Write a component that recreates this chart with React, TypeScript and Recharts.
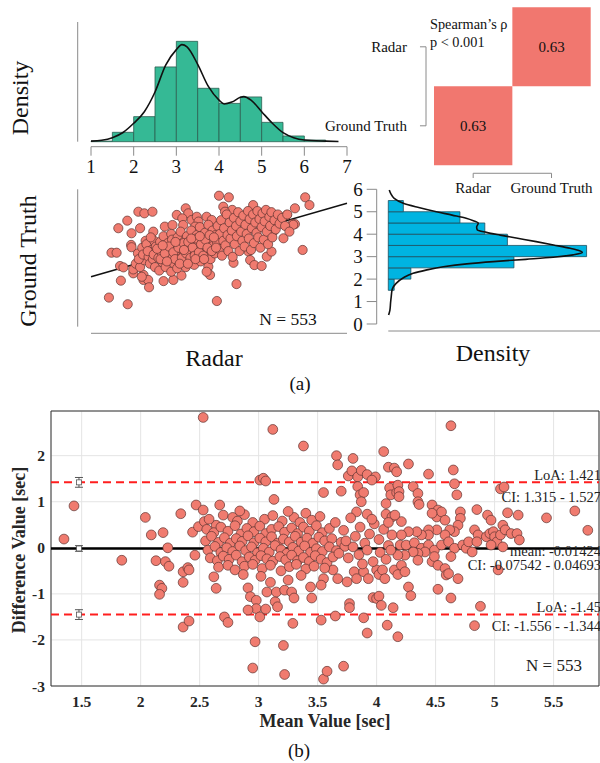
import React from "react";
import {
  ComposedChart,
  ScatterChart,
  Scatter,
  Line,
  XAxis,
  YAxis,
  ReferenceArea,
  ReferenceLine,
  CartesianGrid,
  ErrorBar,
} from "recharts";

const serif = "'Liberation Serif', 'Times New Roman', serif";

// ---- panel (a): marginal histograms
const histTicks = [1, 2, 3, 4, 5, 6, 7];
const gtTicks = [0, 1, 2, 3, 4, 5, 6];

const radarBins = [
  { lo: 1.0, hi: 1.5, d: 0.003 },
  { lo: 1.5, hi: 2.0, d: 0.051 },
  { lo: 2.0, hi: 2.5, d: 0.136 },
  { lo: 2.5, hi: 3.0, d: 0.406 },
  { lo: 3.0, hi: 3.5, d: 0.545 },
  { lo: 3.5, hi: 4.0, d: 0.29 },
  { lo: 4.0, hi: 4.5, d: 0.208 },
  { lo: 4.5, hi: 5.0, d: 0.243 },
  { lo: 5.0, hi: 5.5, d: 0.105 },
  { lo: 5.5, hi: 6.0, d: 0.031 },
  { lo: 6.0, hi: 6.5, d: 0.009 },
];

const radarKde = [
  [1.0, 0.003], [1.25, 0.008], [1.5, 0.022], [1.75, 0.05], [2.0, 0.1], [2.25, 0.163],
  [2.5, 0.27], [2.75, 0.416], [3.0, 0.5], [3.13, 0.527], [3.25, 0.515], [3.5, 0.42],
  [3.75, 0.3], [4.0, 0.226], [4.12, 0.205], [4.3, 0.215], [4.5, 0.241], [4.58, 0.245],
  [4.75, 0.226], [5.0, 0.163], [5.25, 0.1], [5.5, 0.049], [5.75, 0.022], [6.0, 0.009],
  [6.5, 0.003], [6.8, 0.001],
].map(([x, d]) => ({ x, d }));

const gtBins = [
  { lo: 1.5, hi: 2.0, d: 0.018 },
  { lo: 2.0, hi: 2.5, d: 0.069 },
  { lo: 2.5, hi: 3.0, d: 0.384 },
  { lo: 3.0, hi: 3.5, d: 0.606 },
  { lo: 3.5, hi: 4.0, d: 0.364 },
  { lo: 4.0, hi: 4.5, d: 0.295 },
  { lo: 4.5, hi: 5.0, d: 0.219 },
  { lo: 5.0, hi: 5.5, d: 0.046 },
];

const gtKde = [
  [0.4, 0.001], [0.62, 0.005], [0.95, 0.007], [1.22, 0.009], [1.55, 0.012], [1.81, 0.024],
  [2.05, 0.045], [2.26, 0.076], [2.4, 0.115], [2.55, 0.168], [2.68, 0.24], [2.78, 0.321],
  [2.88, 0.42], [2.97, 0.504], [3.08, 0.565], [3.18, 0.593], [3.28, 0.58], [3.37, 0.556],
  [3.52, 0.505], [3.67, 0.452], [3.82, 0.395], [3.96, 0.342], [4.08, 0.3], [4.19, 0.272],
  [4.32, 0.27], [4.49, 0.275], [4.6, 0.26], [4.71, 0.238], [4.85, 0.195], [5.0, 0.147],
  [5.2, 0.09], [5.38, 0.046], [5.6, 0.018], [5.8, 0.008], [5.97, 0.003],
].map(([v, d]) => ({ v, d }));

// ---- panel (a): radar vs ground truth
const radarGt: [number, number][] = [
  [1.42, 1.27], [1.86, 0.98], [1.7, 2.01], [1.48, 3.23], [1.6, 3.23], [1.64, 4.3], [1.85, 4.63],
  [2.11, 5.02], [2.25, 4.95], [2.44, 5.02], [1.95, 4.08], [1.94, 3.57], [1.95, 3.47], [1.68, 2.65],
  [1.76, 2.59], [1.99, 2.33], [2.23, 2.26], [2.23, 2.04], [2.34, 2.04], [2.36, 1.72], [1.99, 2.5],
  [2.19, 2.18], [2.15, 4.3], [2.46, 4.15], [2.7, 1.99], [2.93, 2.04], [3.12, 2.23], [2.73, 4.37],
  [2.91, 4.44], [3.01, 4.88], [3.22, 5.17], [3.28, 4.95], [3.14, 4.73], [3.16, 4.44], [3.36, 4.66],
  [3.48, 4.8], [3.52, 4.59], [3.44, 4.37], [3.71, 4.8], [3.83, 4.66], [3.95, 1.12], [4.0, 5.72],
  [4.23, 5.65], [4.1, 5.24], [4.31, 5.1], [4.14, 5.02], [4.8, 5.31], [6.02, 5.65], [6.12, 5.31],
  [5.78, 5.17], [5.72, 4.48], [5.78, 4.48], [5.51, 3.86], [5.27, 4.15], [5.96, 3.35], [4.41, 1.86],
  [3.75, 2.62], [3.79, 2.26], [3.71, 2.4], [4.34, 2.79], [4.69, 3.28], [4.73, 2.91], [4.83, 2.69],
  [5.0, 2.65], [5.12, 3.06], [5.23, 3.28], [5.59, 4.88], [5.74, 4.45],
  [2.05, 2.75], [2.1, 3.2], [2.15, 2.6], [2.2, 3.45], [2.25, 2.9], [2.28, 3.75], [2.12, 2.95], [2.22, 3.15],
  [2.3, 3.6], [2.35, 3.05], [2.38, 2.75], [2.42, 3.35], [2.45, 2.95], [2.48, 3.75], [2.5, 2.6],
  [2.4, 3.9], [2.33, 3.3], [2.47, 3.15], [2.52, 3.5],
  [2.58, 3.0], [2.6, 2.45], [2.62, 3.7], [2.65, 3.25], [2.68, 2.8], [2.7, 3.95], [2.72, 3.45],
  [2.75, 2.6], [2.78, 3.1], [2.8, 3.65], [2.82, 2.9], [2.85, 3.35], [2.88, 2.4], [2.88, 4.05],
  [2.9, 3.8], [2.92, 3.05], [2.95, 2.75], [2.95, 3.55],
  [3.0, 3.25], [3.02, 2.55], [3.03, 3.9], [3.05, 2.95], [3.08, 3.6], [3.1, 4.15], [3.12, 3.4],
  [3.15, 2.8], [3.18, 3.1], [3.2, 3.75], [3.22, 2.6], [3.25, 3.95], [3.27, 3.3], [3.3, 2.9],
  [3.32, 3.55], [3.35, 4.2], [3.37, 3.15], [3.4, 3.75], [3.42, 2.7], [3.45, 3.4], [3.48, 4.0], [3.5, 3.05],
  [3.52, 3.65], [3.55, 4.35], [3.57, 2.85], [3.6, 3.3], [3.62, 3.95], [3.65, 3.5], [3.67, 4.1],
  [3.7, 3.15], [3.72, 3.75], [3.75, 4.45], [3.77, 3.4], [3.8, 2.95], [3.82, 3.85], [3.85, 4.2],
  [3.87, 3.55], [3.9, 3.2], [3.92, 4.0], [3.95, 3.7], [3.97, 4.4],
  [4.0, 3.4], [4.02, 4.05], [4.05, 4.65], [4.07, 3.1], [4.1, 3.75], [4.12, 4.3], [4.15, 3.55],
  [4.18, 4.9], [4.2, 4.0], [4.22, 3.3], [4.25, 4.55], [4.27, 3.85], [4.3, 4.2], [4.32, 3.05],
  [4.35, 4.75], [4.37, 3.6], [4.4, 4.4], [4.42, 3.95],
  [4.45, 5.0], [4.48, 3.3], [4.5, 4.6], [4.52, 4.15], [4.55, 3.75], [4.57, 4.85], [4.6, 3.5],
  [4.62, 4.45], [4.65, 4.05], [4.68, 5.05], [4.7, 3.85], [4.72, 4.7], [4.75, 3.35], [4.77, 4.3],
  [4.8, 4.9], [4.82, 3.65], [4.85, 4.55], [4.88, 4.1],
  [4.9, 5.05], [4.92, 3.9], [4.95, 4.7], [4.97, 3.45], [5.0, 4.35], [5.02, 4.95], [5.05, 3.8],
  [5.07, 4.6], [5.1, 5.1], [5.12, 4.15], [5.15, 3.6], [5.18, 4.8], [5.2, 4.4], [5.23, 5.0],
  [5.25, 3.9], [5.3, 4.65], [5.33, 4.25], [5.38, 4.9], [5.42, 4.5], [5.48, 4.75], [5.55, 4.4],
  [5.6, 4.9], [5.65, 4.15],
  [2.55, 3.4], [2.63, 2.95], [2.73, 3.2], [2.83, 3.5], [2.93, 3.25], [2.97, 2.95], [3.05, 3.45],
  [3.13, 3.0], [3.17, 3.65], [3.23, 3.2], [3.28, 3.7], [3.33, 3.0], [3.38, 3.45], [3.43, 3.1],
  [3.47, 3.85], [3.53, 3.25], [3.58, 3.6], [3.63, 3.1], [3.68, 3.8], [3.73, 3.45], [3.78, 4.0],
  [3.83, 3.3], [3.88, 3.9], [3.93, 3.45], [2.68, 3.55], [2.78, 2.85], [2.98, 3.7], [3.08, 2.75],
  [3.18, 3.35], [3.27, 2.75], [3.35, 3.85], [3.45, 2.95], [3.55, 3.95], [3.65, 2.95],
];
const scatterPts = radarGt.map(([x, y]) => ({ x, y }));
const fitLine = [{ x: 1, y: 2.18 }, { x: 7, y: 5.39 }];

// ---- correlation matrix
const corrVars = ["Radar", "Ground Truth"];
const corrCells = [
  { col: 1, row: 1, rho: "0.63" },
  { col: 0, row: 0, rho: "0.63" },
];
const corrCenters = corrCells.map((c) => ({ x: c.col + 0.5, y: c.row + 0.5 }));

// ---- panel (b): Bland-Altman
const baXTicks = [1.5, 2, 2.5, 3, 3.5, 4, 4.5, 5, 5.5];
const baYTicks = [-3, -2, -1, 0, 1, 2];
const baMean = -0.01424;
const baLoaUpper = 1.421;
const baLoaLower = -1.45;
const baCi = [
  { x: 1.477, y: 1.421, e: 0.106 },
  { x: 1.477, y: -0.01424, e: 0.061 },
  { x: 1.477, y: -1.45, e: 0.106 },
];

const baPoints: [number, number][] = [
  [1.35, 0.19], [1.435, 0.91], [1.84, -0.27], [2.04, 0.66], [2.09, 0.28], [2.19, 0.33], [2.23, 0.0],
  [2.13, -0.28], [2.21, -0.3], [2.24, -0.4], [2.16, -0.81], [2.18, -0.88], [2.16, -1.01], [2.34, 0.74],
  [2.36, -0.52], [2.4, -0.43], [2.41, -0.48], [2.36, -0.75], [2.36, -1.72], [2.41, -1.59], [2.44, 0.34],
  [2.47, 0.93], [2.46, -0.16], [2.49, 0.46],
  [2.53, 2.83], [3.12, 2.57], [3.38, 2.21], [3.66, 2.0], [3.67, 1.8], [3.8, 1.94], [4.06, 2.09],
  [4.1, 1.75], [3.01, 1.47], [3.04, 1.51], [3.06, 1.45], [3.76, 1.56], [3.79, 1.67], [3.84, 1.54],
  [3.87, 1.68], [3.92, 1.59], [3.99, 1.54], [3.96, 1.47], [3.84, 1.33], [3.86, 1.15], [3.89, 1.2],
  [3.87, 1.0], [3.83, 0.78], [3.92, 0.73], [3.7, 1.23], [3.55, 1.2], [3.13, 1.05], [4.11, 1.3],
  [4.12, 1.15], [4.17, 1.2], [4.08, 0.96], [4.08, 0.73], [4.13, 0.67], [4.15, 1.73], [2.53, 0.82],
  [2.54, 0.57], [2.67, 0.93], [2.64, 0.49],
  [2.62, -0.63], [2.64, -0.88], [2.71, -1.5], [2.74, -1.62], [2.91, -0.87], [2.93, -1.06], [2.98, -1.14],
  [2.98, -1.32], [3.01, -1.5], [2.91, -1.35], [2.97, -2.04], [2.95, -2.61], [3.06, -1.33], [3.07, -0.96],
  [3.14, -1.17], [3.16, -1.28], [3.15, -0.96], [3.21, -2.12], [3.22, -2.75], [3.22, -0.92], [3.28, -0.96],
  [3.3, -1.09], [3.29, -1.64], [3.45, -1.09], [3.44, -0.85], [3.53, -1.57], [3.55, -2.85], [3.58, -2.68],
  [3.72, -2.57], [3.65, -1.48], [3.77, -1.21], [3.77, -1.3], [3.89, -1.52], [3.92, -1.85], [3.97, -1.08],
  [4.0, -1.1], [4.02, -1.05], [4.04, -1.25], [4.09, -1.68], [4.14, -1.3], [4.18, -1.93],
  [3.55, -0.67], [3.53, -0.81], [3.63, -0.48], [3.67, -0.67], [3.75, -0.74], [3.81, -0.52], [3.83, -0.67],
  [3.89, -0.52], [3.93, -0.67], [4.0, -0.48], [4.02, -0.58], [4.05, -0.48], [4.07, -0.67], [4.15, -0.48],
  [4.18, -0.58],
  [4.63, 2.65], [4.27, 1.82], [4.44, 1.6], [4.65, 1.69], [4.66, 1.39], [4.17, 1.65], [4.18, 1.36],
  [4.19, 1.22], [4.19, 1.11], [4.31, 1.33], [4.35, 1.18], [4.35, 1.0], [4.36, 0.94], [4.68, 1.15],
  [5.05, 1.28], [5.08, 1.32], [4.85, 0.83], [4.94, 0.71], [4.97, 0.6], [5.11, 0.76], [5.2, 0.71],
  [5.44, 0.65], [5.68, 0.8], [5.79, 0.38],
  [4.47, 0.93], [4.52, 0.82], [4.51, 0.67], [4.55, 0.78], [4.47, 0.75], [4.58, 0.6], [4.71, 0.78],
  [4.71, 0.64], [4.69, 0.49], [4.66, 0.35], [4.62, 0.39], [4.58, 0.28], [4.51, 0.39], [4.44, 0.39],
  [4.44, 0.28], [4.38, 0.28], [4.34, 0.35], [4.27, 0.35], [4.21, 0.57], [4.21, 0.28], [4.155, 0.71],
  [4.2, 0.06], [4.25, 0.06], [4.32, 0.11], [4.38, -0.01], [4.44, 0.06], [4.49, -0.05], [4.55, 0.06],
  [4.61, 0.13], [4.66, -0.01], [4.73, 0.06], [4.76, -0.01], [4.78, 0.13], [4.83, 0.39], [4.86, 0.28],
  [4.85, 0.13], [4.93, 0.24], [4.96, 0.31], [4.99, 0.35], [5.0, 0.24], [5.02, 0.13], [5.05, 0.28],
  [5.07, 0.49], [5.09, 0.39], [5.14, 0.31], [5.19, 0.31], [5.21, 0.17], [4.97, 0.06], [5.07, 0.02],
  [4.81, -0.09], [4.41, -0.09], [4.35, -0.12], [4.31, -0.09], [4.24, -0.16], [4.18, -0.16], [4.35, -0.27],
  [4.21, -0.38], [4.24, -0.52], [4.27, -0.85], [4.29, -1.04], [4.47, -0.3], [4.49, -0.19], [4.52, -0.38],
  [4.58, -0.45], [4.59, -0.59], [4.61, -0.56], [4.63, -0.19], [4.69, -0.67], [4.52, -0.9], [4.63, -1.09],
  [4.88, -1.27], [4.83, -1.69], [5.03, -0.48],
  [2.58, 0.62], [2.7, 0.71], [2.78, 0.66], [2.82, 0.58], [2.88, 0.72], [2.95, 0.55], [3.05, 0.62],
  [3.12, 0.7], [3.2, 0.58], [3.3, 0.66], [3.35, 0.55], [3.4, 0.75], [3.45, 0.6], [3.52, 0.68],
  [2.84, 0.8], [3.25, 0.79],
  [2.56, 0.4], [2.62, 0.33], [2.68, 0.45], [2.74, 0.36], [2.8, 0.48], [2.85, 0.3], [2.9, 0.42],
  [2.96, 0.35], [3.01, 0.47], [3.06, 0.31], [3.11, 0.4], [3.17, 0.46], [3.22, 0.34], [3.28, 0.43],
  [3.33, 0.31], [3.38, 0.45], [3.43, 0.36], [3.49, 0.48], [3.54, 0.33], [3.6, 0.42],
  [2.55, 0.15], [2.6, 0.25], [2.66, 0.12], [2.71, 0.22], [2.76, 0.1], [2.81, 0.2], [2.86, 0.14],
  [2.91, 0.26], [2.96, 0.11], [3.01, 0.21], [3.06, 0.13], [3.11, 0.24], [3.16, 0.1], [3.21, 0.19],
  [3.26, 0.13], [3.31, 0.25], [3.36, 0.12], [3.41, 0.21], [3.46, 0.1], [3.51, 0.23], [3.56, 0.15],
  [3.62, 0.2], [3.7, 0.12],
  [2.57, -0.05], [2.63, 0.03], [2.68, -0.1], [2.73, 0.0], [2.78, -0.08], [2.84, 0.04], [2.89, -0.06],
  [2.94, 0.02], [2.99, -0.11], [3.04, -0.01], [3.09, -0.09], [3.14, 0.05], [3.19, -0.04], [3.24, -0.12],
  [3.29, 0.01], [3.34, -0.07], [3.39, 0.04], [3.44, -0.1], [3.49, -0.02], [3.54, -0.08], [3.6, 0.02],
  [3.66, -0.06], [3.73, 0.03],
  [2.59, -0.22], [2.65, -0.28], [2.7, -0.18], [2.75, -0.25], [2.81, -0.16], [2.86, -0.3], [2.92, -0.2],
  [2.97, -0.27], [3.02, -0.17], [3.07, -0.24], [3.12, -0.29], [3.18, -0.19], [3.23, -0.26], [3.28, -0.16],
  [3.33, -0.28], [3.38, -0.21], [3.43, -0.3], [3.48, -0.17], [3.53, -0.25], [3.58, -0.32], [3.63, -0.2],
  [2.66, -0.42], [2.74, -0.38], [2.8, -0.48], [2.88, -0.4], [2.95, -0.36], [3.03, -0.45], [3.1, -0.38],
  [3.19, -0.5], [3.26, -0.41], [3.32, -0.36], [3.4, -0.46], [3.47, -0.4], [3.56, -0.44], [2.87, -0.58],
  [3.02, -0.62], [3.36, -0.6], [3.25, -0.7], [3.1, -0.75],
  [3.65, 0.55], [3.72, 0.38], [3.78, 0.65], [3.82, 0.25], [3.86, 0.45], [3.9, 0.1], [3.94, 0.3],
  [3.98, 0.52], [4.02, 0.18], [4.06, 0.4], [4.1, 0.05], [4.13, 0.28], [3.68, -0.12], [3.76, -0.22],
  [3.8, 0.02], [3.85, -0.15], [3.92, -0.05], [3.97, -0.3], [4.03, -0.1], [4.08, -0.25], [4.12, -0.05],
  [3.74, 0.15], [3.88, -0.35], [3.96, 0.62], [4.1, 0.55],
];
const baPts = baPoints.map(([x, y]) => ({ x, y }));

const pointFill = "#F07B6F";
const pointStroke = "#5e3430";
const axisGrey = "#8a8a8a";

const dot = (r: number) => (p: any) => (
  <circle cx={p.cx} cy={p.cy} r={r} fill={pointFill} stroke={pointStroke} strokeWidth={0.7} />
);
const ciMark = (p: any) => (
  <rect x={p.cx - 2.5} y={p.cy - 2.5} width={5} height={5} fill="#fff" stroke="#555" strokeWidth={0.8} />
);
const noMark = () => <g />;

const RowTick = (props: any) => {
  const { x, y, payload } = props;
  return (
    <text x={x} y={y} dy="0.35em" textAnchor="end" fontSize={15} fontFamily={serif} fill="#111">
      {corrVars[1 - Math.floor(payload.value)]}
    </text>
  );
};

const abs = (left: number, top: number): React.CSSProperties => ({ position: "absolute", left, top });

export default function App() {
  return (
    <div
      style={{
        position: "fixed",
        left: 0,
        top: 0,
        width: 600,
        height: 763,
        overflow: "hidden",
        background: "#fff",
        fontFamily: serif,
      }}
    >
      {/* radar histogram */}
      <div style={abs(0, 0)}>
        <ComposedChart width={360} height={190} data={radarKde} margin={{ top: 22, right: 13, bottom: 3.3, left: 77.7 }}>
          <XAxis
            dataKey="x"
            type="number"
            domain={[0.688, 7]}
            ticks={histTicks}
            interval={0}
            allowDataOverflow
            axisLine={false}
            tickLine={{ stroke: axisGrey }}
            tickSize={9}
            tickMargin={4}
            height={40}
            tick={{ fill: "#111", fontSize: 19, fontFamily: serif }}
          />
          <YAxis type="number" domain={[-0.0272, 0.65]} hide allowDataOverflow />
          {radarBins.map((b) => (
            <ReferenceArea
              key={b.lo}
              x1={b.lo}
              x2={b.hi}
              y1={0}
              y2={b.d}
              fill="#35B995"
              fillOpacity={1}
              stroke="#2c5f52"
              strokeWidth={0.8}
              ifOverflow="visible"
            />
          ))}
          <Line dataKey="d" type="monotone" stroke="#111" strokeWidth={1.6} dot={false} isAnimationActive={false} />
          <ReferenceLine segment={[{ x: 1, y: -0.0272 }, { x: 7, y: -0.0272 }]} stroke={axisGrey} ifOverflow="visible" />
          <ReferenceLine segment={[{ x: 0.688, y: 0 }, { x: 0.688, y: 0.65 }]} stroke={axisGrey} ifOverflow="visible" />
        </ComposedChart>
      </div>

      {/* radar vs ground truth scatter */}
      <div style={abs(0, 170)}>
        <ScatterChart width={360} height={200} margin={{ top: 19.3, right: 13, bottom: 16.7, left: 67.7 }}>
          <XAxis
            dataKey="x"
            type="number"
            domain={[0.688, 7]}
            ticks={histTicks}
            interval={0}
            allowDataOverflow
            tick={false}
            tickSize={8}
            axisLine={false}
            tickLine={{ stroke: axisGrey }}
            height={20}
          />
          <YAxis
            dataKey="y"
            type="number"
            domain={[-0.29, 6]}
            ticks={gtTicks}
            interval={0}
            allowDataOverflow
            tick={false}
            tickSize={8}
            axisLine={false}
            tickLine={{ stroke: axisGrey }}
            width={10}
          />
          <Scatter data={scatterPts} shape={dot(4.6)} isAnimationActive={false} />
          <ReferenceLine segment={fitLine} stroke="#111" strokeWidth={1.6} ifOverflow="visible" />
          <ReferenceLine segment={[{ x: 1, y: -0.29 }, { x: 7, y: -0.29 }]} stroke={axisGrey} ifOverflow="visible" />
          <ReferenceLine segment={[{ x: 0.688, y: 0 }, { x: 0.688, y: 6 }]} stroke={axisGrey} ifOverflow="visible" />
        </ScatterChart>
      </div>

      {/* ground truth histogram (horizontal) */}
      <div style={abs(320, 170)}>
        <ComposedChart
          layout="vertical"
          width={280}
          height={200}
          data={gtKde}
          margin={{ top: 19.3, right: 0, bottom: 39, left: 16.7 }}
        >
          <XAxis type="number" dataKey="d" domain={[-0.0354, 0.647]} hide allowDataOverflow />
          <YAxis
            type="number"
            dataKey="v"
            domain={[-0.312, 6]}
            reversed
            ticks={gtTicks}
            interval={0}
            allowDataOverflow
            width={40}
            axisLine={false}
            tickLine={{ stroke: axisGrey }}
            tickSize={10}
            tickMargin={4}
            tick={{ fill: "#111", fontSize: 19, fontFamily: serif }}
          />
          {gtBins.map((b) => (
            <ReferenceArea
              key={b.lo}
              x1={0}
              x2={b.d}
              y1={b.lo}
              y2={b.hi}
              fill="#00B4E1"
              fillOpacity={1}
              stroke="#1d4f60"
              strokeWidth={0.8}
              ifOverflow="visible"
            />
          ))}
          <Line dataKey="d" type="monotone" stroke="#111" strokeWidth={1.6} dot={false} isAnimationActive={false} />
          <ReferenceLine segment={[{ x: 0, y: -0.312 }, { x: 0.647, y: -0.312 }]} stroke={axisGrey} ifOverflow="visible" />
          <ReferenceLine segment={[{ x: -0.0354, y: 0 }, { x: -0.0354, y: 6 }]} stroke={axisGrey} ifOverflow="visible" />
        </ComposedChart>
      </div>

      {/* correlation matrix */}
      <div style={abs(320, 0)}>
        <ScatterChart width={280} height={220} margin={{ top: 7.3, right: 9.3, bottom: 14.7, left: 14 }}>
          <XAxis
            type="number"
            dataKey="x"
            domain={[0, 2]}
            ticks={[0.5, 1.5]}
            interval={0}
            tickFormatter={(v: number) => corrVars[Math.floor(v)]}
            axisLine={false}
            tickLine={false}
            tickSize={0}
            tickMargin={17}
            height={40}
            tick={{ fill: "#111", fontSize: 15, fontFamily: serif }}
          />
          <YAxis
            type="number"
            dataKey="y"
            domain={[0, 2]}
            ticks={[0.5, 1.5]}
            interval={0}
            axisLine={false}
            tickLine={false}
            tickSize={0}
            tickMargin={27}
            width={100}
            tick={<RowTick />}
          />
          {corrCells.map((c) => (
            <ReferenceArea
              key={`${c.col}-${c.row}`}
              x1={c.col}
              x2={c.col + 1}
              y1={c.row}
              y2={c.row + 1}
              fill="#F1776F"
              fillOpacity={1}
              label={{ value: c.rho, position: "center", fill: "#111", fontSize: 15, fontFamily: serif }}
            />
          ))}
          <Scatter data={corrCenters} shape={noMark} isAnimationActive={false} />
          <ReferenceLine segment={[{ x: -0.102, y: 1.5 }, { x: -0.102, y: 0.5 }]} stroke={axisGrey} ifOverflow="visible" />
          <ReferenceLine segment={[{ x: -0.179, y: 1.5 }, { x: -0.102, y: 1.5 }]} stroke={axisGrey} ifOverflow="visible" />
          <ReferenceLine segment={[{ x: -0.179, y: 0.5 }, { x: -0.102, y: 0.5 }]} stroke={axisGrey} ifOverflow="visible" />
          <ReferenceLine segment={[{ x: 0.5, y: -0.101 }, { x: 1.5, y: -0.101 }]} stroke={axisGrey} ifOverflow="visible" />
          <ReferenceLine segment={[{ x: 0.5, y: -0.101 }, { x: 0.5, y: -0.161 }]} stroke={axisGrey} ifOverflow="visible" />
          <ReferenceLine segment={[{ x: 1.5, y: -0.101 }, { x: 1.5, y: -0.161 }]} stroke={axisGrey} ifOverflow="visible" />
        </ScatterChart>
      </div>

      {/* Bland-Altman */}
      <div style={abs(0, 400)}>
        <ComposedChart width={600} height={363} margin={{ top: 11, right: 1, bottom: 47, left: 11 }}>
          <CartesianGrid stroke="#e4e4e4" />
          <XAxis
            type="number"
            dataKey="x"
            domain={[1.24, 5.885]}
            ticks={baXTicks}
            interval={0}
            allowDataOverflow
            axisLine={false}
            tickLine={false}
            tickSize={0}
            tickMargin={10}
            height={30}
            tick={{ fill: "#262626", fontSize: 15.5, fontWeight: "bold", fontFamily: serif }}
          />
          <YAxis
            type="number"
            dataKey="y"
            domain={[-3, 2.97]}
            ticks={baYTicks}
            interval={0}
            allowDataOverflow
            axisLine={false}
            tickLine={false}
            tickSize={0}
            tickMargin={6}
            width={40}
            tick={{ fill: "#262626", fontSize: 15.5, fontWeight: "bold", fontFamily: serif }}
          />
          <ReferenceArea x1={1.24} x2={5.885} y1={-3} y2={2.97} fill="none" fillOpacity={0} stroke="#333" strokeWidth={1} />
          <Scatter data={baPts} shape={dot(4.9)} isAnimationActive={false} />
          <ReferenceLine y={baLoaUpper} stroke="#FF1E1E" strokeWidth={2} strokeDasharray="8 5" />
          <ReferenceLine y={baLoaLower} stroke="#FF1E1E" strokeWidth={2} strokeDasharray="8 5" />
          <ReferenceLine y={baMean} stroke="#000" strokeWidth={2.5} />
          <Scatter data={baCi} shape={ciMark} isAnimationActive={false}>
            <ErrorBar dataKey="e" direction="y" width={4} stroke="#555" strokeWidth={1} />
          </Scatter>
        </ComposedChart>
      </div>

      {/* titles and annotations */}
      <svg width={600} height={763} style={{ position: "absolute", left: 0, top: 0, pointerEvents: "none" }}>
        <g fontFamily={serif} fill="#111">
          <text x={28} y={98} fontSize={24} textAnchor="middle" transform="rotate(-90 28 98)">Density</text>
          <text x={36} y={261} fontSize={24} textAnchor="middle" transform="rotate(-90 36 261)">Ground Truth</text>
          <text x={214} y={366} fontSize={24} textAnchor="middle">Radar</text>
          <text x={493} y={361} fontSize={24} textAnchor="middle">Density</text>
          <text x={300} y={390} fontSize={19} textAnchor="middle">(a)</text>
          <text x={288} y={325} fontSize={17.5} textAnchor="middle">N = 553</text>
          <text x={430} y={29} fontSize={14.3}>Spearman’s ρ</text>
          <text x={430} y={46.5} fontSize={14.3}>p &lt; 0.001</text>

          <text x={24.5} y={550} fontSize={18} fontWeight="bold" fill="#262626" textAnchor="middle" transform="rotate(-90 24.5 550)">
            Difference Value [sec]
          </text>
          <text x={325} y={727} fontSize={18} fontWeight="bold" fill="#262626" textAnchor="middle">Mean Value [sec]</text>
          <text x={299} y={757} fontSize={19} textAnchor="middle">(b)</text>
          <g fontSize={14.5} textAnchor="end" fill="#222">
            <text x={601} y={480}>LoA: 1.421</text>
            <text x={601} y={501.7}>CI: 1.315 - 1.527</text>
            <text x={601} y={555.7}>mean: -0.01424</text>
            <text x={601} y={570.3}>CI: -0.07542 - 0.04693</text>
            <text x={601} y={611.7}>LoA: -1.45</text>
            <text x={601} y={631}>CI: -1.556 - -1.344</text>
          </g>
          <text x={554} y={670.7} fontSize={17} textAnchor="middle" fill="#222">N = 553</text>
        </g>
      </svg>
    </div>
  );
}
